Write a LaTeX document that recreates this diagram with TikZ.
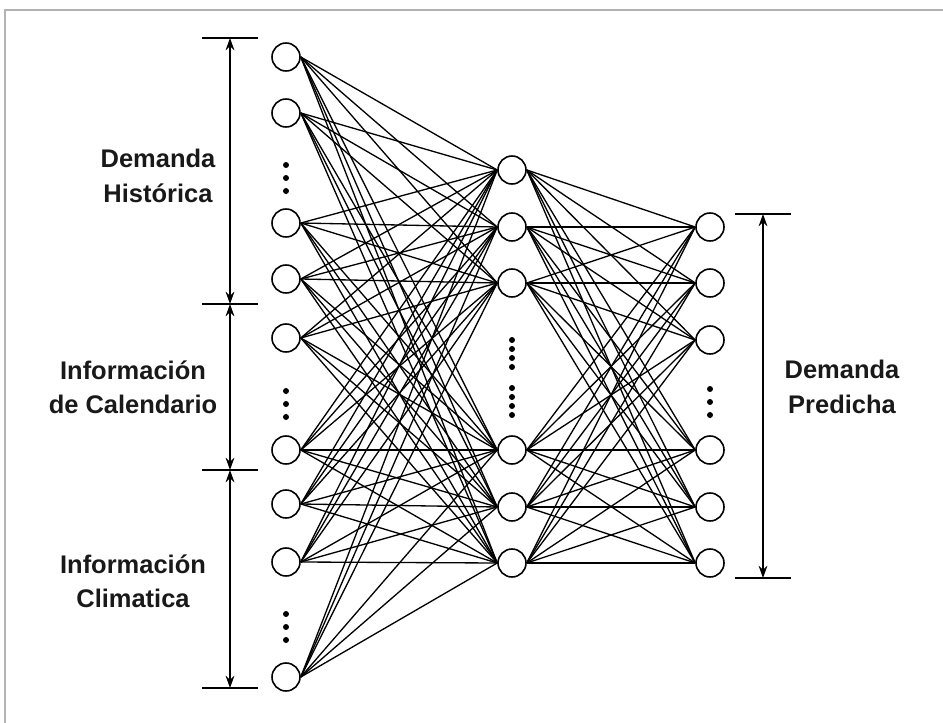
\documentclass[tikz,border=0pt]{standalone}
\usepackage{fontspec}
\setmainfont{Liberation Sans}
\usetikzlibrary{arrows.meta}
\tikzset{
  neuron/.style={draw, circle, minimum size=0.56cm, inner sep=0pt, line width=0.9pt},
  conn/.style={line width=0.75pt},
  dimline/.style={line width=0.8pt, {Stealth[length=7pt,width=5pt]}-{Stealth[length=7pt,width=5pt]}},
  tickline/.style={line width=0.9pt},
  lbl/.style={align=center, font=\bfseries\fontsize{14.5}{19.5}\selectfont, text=black!90},
  vdot/.style={circle, fill=black, inner sep=0pt, minimum size=3.4pt}
}
\begin{document}
\begin{tikzpicture}[x=0.02cm,y=-0.02cm]
\useasboundingbox (0,0) rectangle (943,723);
\draw[gray!60, line width=1pt] (5,723) -- (5,10) -- (943,10);

% input nodes
\foreach \n/\y in {1/57,2/113,3/223,4/279,5/338,6/450,7/504,8/562,9/677}
  \node[neuron] (i\n) at (286,\y) {};
% hidden nodes
\foreach \n/\y in {1/170,2/227,3/283,4/450,5/507,6/563}
  \node[neuron] (h\n) at (512,\y) {};
% output nodes
\foreach \n/\y in {1/227,2/283,3/340,4/450,5/507,6/563}
  \node[neuron] (o\n) at (710,\y) {};

% connections
\foreach \a in {1,...,9}
  \foreach \b in {1,...,6}
    \draw[conn] (i\a.east) -- (h\b.west);
\foreach \a in {1,...,6}
  \foreach \b in {1,...,6}
    \draw[conn] (h\a.east) -- (o\b.west);

% dots
\foreach \y in {165,178,191} \node[vdot] (da\y) at (286,\y) {};
\foreach \y in {391,404,417} \node[vdot] (db\y) at (286,\y) {};
\foreach \y in {614,627,640} \node[vdot] (dc\y) at (286,\y) {};
\foreach \y in {340,349,358,367,388,397,406,415} \node[vdot] (dh\y) at (512,\y) {};
\foreach \y in {389,402,415} \node[vdot] (do\y) at (710,\y) {};

% left dimension
\coordinate (t1) at (230,38);
\coordinate (t2) at (230,304);
\coordinate (t3) at (230,470);
\coordinate (t4) at (230,688);
\foreach \c in {t1,t2,t3,t4}
  \draw[tickline] ([xshift=-0.56cm]\c) -- ([xshift=0.56cm]\c);
\draw[dimline] (t1) -- (t2);
\draw[dimline] (t2) -- (t3);
\draw[dimline] (t3) -- (t4);

% right dimension
\coordinate (r1) at (763,214);
\coordinate (r2) at (763,578);
\foreach \c in {r1,r2}
  \draw[tickline] ([xshift=-0.56cm]\c) -- ([xshift=0.56cm]\c);
\draw[dimline] (r1) -- (r2);

% labels
\node[lbl] (L1) at (158,176) {Demanda\\Histórica};
\node[lbl] (L2) at (133,387) {Información\\de Calendario};
\node[lbl] (L3) at (133,581) {Información\\Climatica};
\node[lbl] (L4) at (842,387) {Demanda\\Predicha};
\end{tikzpicture}
\end{document}
